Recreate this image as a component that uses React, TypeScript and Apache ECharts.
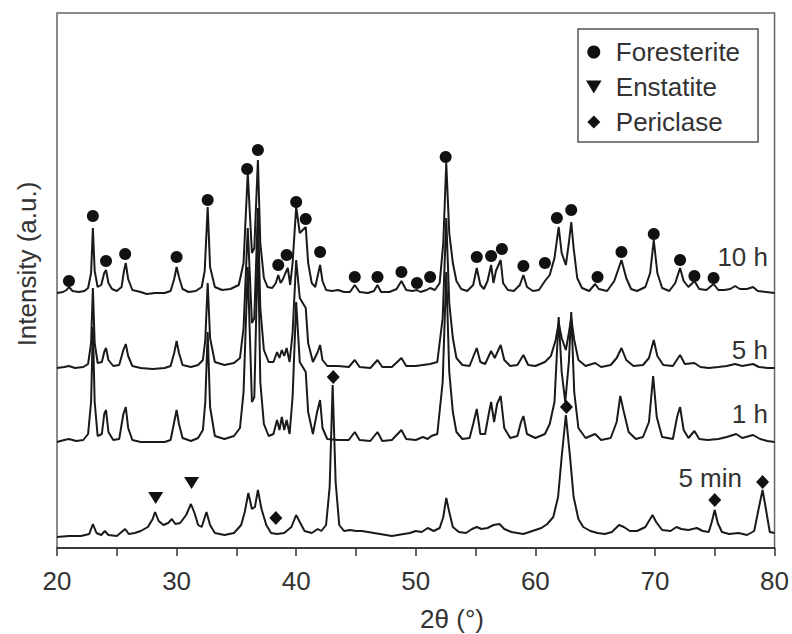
import React, { useEffect, useRef } from "react";
import * as echarts from "echarts";

// 2θ (°) vs. intensity (a.u., height above each pattern's own baseline)
const offset10h = 255;
const offset5h = 180;
const offset1h = 106;
const offset5min = 11;

const pattern10h: [number, number][] = [
  [20, 0], [20.5, 1], [20.8, 3], [21.0, 6], [21.3, 2], [21.8, 1], [22.3, 2], [22.6, 5], [22.85, 20], [23.0, 65], [23.15, 22], [23.4, 6],
  [23.7, 8], [23.95, 20], [24.1, 23], [24.3, 10], [24.6, 4], [25.0, 2], [25.4, 6], [25.6, 22], [25.75, 30], [25.95, 14], [26.3, 3],
  [27, 1], [27.5, -1], [28.2, 0], [29, 0], [29.5, 2], [29.8, 14], [30.0, 26], [30.2, 16], [30.5, 4], [31, 1], [31.6, 2], [32.1, 6],
  [32.35, 22], [32.6, 86], [32.8, 26], [33.2, 6], [33.8, 3], [34.5, 4], [35.2, 8], [35.6, 30], [35.95, 120], [36.3, 40], [36.5, 45],
  [36.8, 133], [37.0, 50], [37.3, 15], [37.6, 6], [38.0, 5], [38.3, 10], [38.5, 18], [38.7, 10], [38.9, 14], [39.1, 20], [39.3, 25],
  [39.5, 8], [39.7, 30], [40.0, 86], [40.3, 60], [40.8, 66], [41.0, 30], [41.3, 10], [41.6, 6], [41.85, 20], [42.0, 28], [42.2, 12],
  [42.5, 3], [43.0, 2], [43.5, 3], [44, 1], [44.5, 1], [44.9, 8], [45.3, 1], [46, 0], [46.5, 2], [46.8, 8], [47.1, 1], [47.8, 1],
  [48.4, 4], [48.8, 12], [49.2, 3], [49.7, 2], [50.1, 3], [50.4, 1], [50.9, 3], [51.2, 5], [51.6, 3], [52.0, 10], [52.3, 50],
  [52.55, 130], [52.8, 60], [53.1, 30], [53.4, 12], [53.8, 4], [54.3, 2], [54.8, 8], [55.1, 25], [55.4, 8], [55.7, 4], [56.0, 12],
  [56.3, 28], [56.5, 10], [56.7, 22], [57.1, 33], [57.3, 10], [57.7, 3], [58.2, 2], [58.7, 8], [59.0, 18], [59.3, 6], [59.8, 2],
  [60.3, 3], [60.8, 12], [61.2, 18], [61.6, 35], [61.95, 66], [62.2, 40], [62.55, 28], [62.8, 50], [63.0, 71], [63.2, 45], [63.5, 15],
  [63.9, 5], [64.5, 2], [65.0, 9], [65.3, 4], [66, 2], [66.6, 12], [67.2, 33], [67.6, 15], [68, 4], [68.5, 2], [69.2, 6], [69.6, 20],
  [69.9, 53], [70.2, 20], [70.6, 5], [71.2, 2], [71.7, 10], [72.1, 25], [72.4, 12], [72.8, 6], [73.3, 12], [73.7, 4], [74.3, 3],
  [74.9, 9], [75.3, 3], [75.8, 3], [76.3, 4], [76.7, 7], [77.1, 4], [77.7, 4], [78.2, 6], [78.6, 2], [79.3, 1], [80, 0],
];

const pattern5h: [number, number][] = [
  [20, 0], [20.6, 1], [21.0, 2], [21.5, 0], [22.2, 1], [22.6, 4], [22.85, 25], [23.0, 80], [23.15, 25], [23.4, 5], [23.75, 6],
  [23.95, 16], [24.1, 20], [24.3, 8], [24.7, 2], [25.2, 3], [25.55, 18], [25.75, 24], [25.95, 12], [26.3, 2], [27, 0], [28, -1],
  [29, 0], [29.5, 2], [29.8, 15], [30.0, 27], [30.2, 15], [30.5, 3], [31.2, 1], [31.8, 3], [32.2, 8], [32.4, 28], [32.6, 85],
  [32.8, 30], [33.2, 6], [34, 3], [34.8, 5], [35.3, 10], [35.6, 40], [35.95, 140], [36.3, 45], [36.5, 50], [36.8, 160], [37.0, 60],
  [37.3, 18], [37.7, 6], [38.1, 6], [38.4, 16], [38.6, 10], [38.8, 18], [39.0, 12], [39.2, 20], [39.45, 6], [39.7, 35], [40.0, 108],
  [40.3, 70], [40.8, 60], [41.0, 25], [41.4, 6], [41.8, 16], [42.0, 23], [42.2, 8], [42.6, 2], [43.5, 2], [44.4, 1], [44.9, 8],
  [45.3, 1], [46.2, 0], [46.8, 8], [47.2, 1], [48.0, 1], [48.8, 10], [49.2, 2], [50.0, 2], [50.6, 3], [51.2, 4], [51.8, 6],
  [52.25, 50], [52.55, 150], [52.8, 65], [53.1, 30], [53.4, 10], [53.9, 3], [54.5, 2], [55.1, 20], [55.4, 6], [55.8, 4], [56.3, 17],
  [56.6, 10], [57.1, 23], [57.4, 8], [57.9, 2], [58.5, 3], [59.0, 13], [59.4, 3], [60.0, 2], [60.8, 6], [61.3, 12], [61.7, 28],
  [61.95, 45], [62.2, 30], [62.55, 18], [62.8, 35], [63.0, 50], [63.25, 28], [63.6, 8], [64.2, 2], [65.0, 5], [65.5, 1], [66.3, 3],
  [66.8, 10], [67.2, 20], [67.6, 8], [68.2, 2], [69.0, 3], [69.5, 10], [69.9, 28], [70.2, 12], [70.7, 3], [71.5, 2], [72.1, 13],
  [72.5, 4], [73.3, 5], [73.8, 1], [74.5, 0], [75.3, 1], [76.0, 2], [76.7, 4], [77.3, 2], [78.2, 4], [78.7, 1], [79.4, 0], [80, 0],
];

const pattern1h: [number, number][] = [
  [20, 0], [20.6, 2], [21.0, 3], [21.6, 1], [22.2, 2], [22.6, 8], [22.85, 40], [23.0, 115], [23.15, 40], [23.4, 6], [23.75, 8],
  [23.95, 28], [24.1, 32], [24.3, 10], [24.7, 2], [25.2, 3], [25.55, 28], [25.75, 35], [25.95, 14], [26.3, 2], [27, 0], [28, 0],
  [29, 0], [29.5, 2], [29.8, 20], [30.0, 32], [30.2, 18], [30.5, 4], [31.2, 1], [31.8, 4], [32.2, 12], [32.4, 40], [32.6, 110],
  [32.8, 35], [33.2, 6], [34, 3], [34.8, 6], [35.3, 14], [35.6, 50], [35.95, 175], [36.3, 40], [36.5, 45], [36.8, 200], [37.0, 60],
  [37.3, 18], [37.7, 6], [38.1, 8], [38.4, 22], [38.6, 12], [38.8, 25], [39.0, 12], [39.2, 22], [39.45, 8], [39.7, 45], [40.0, 140],
  [40.3, 80], [40.8, 70], [41.0, 30], [41.4, 8], [41.75, 30], [42.0, 42], [42.2, 14], [42.6, 3], [43.5, 2], [44.4, 2], [44.9, 10],
  [45.3, 2], [46.2, 1], [46.8, 10], [47.2, 1], [48.0, 2], [48.8, 12], [49.2, 3], [50.0, 2], [50.6, 5], [51.0, 3], [51.3, 6],
  [51.8, 8], [52.25, 60], [52.55, 170], [52.8, 70], [53.1, 30], [53.4, 10], [53.9, 3], [54.5, 4], [54.8, 18], [55.1, 33], [55.4, 8],
  [55.8, 8], [56.1, 28], [56.3, 40], [56.55, 20], [56.8, 38], [57.1, 46], [57.4, 14], [57.9, 4], [58.5, 6], [58.8, 20], [59.0, 26],
  [59.3, 8], [60.0, 4], [60.8, 8], [61.2, 18], [61.6, 40], [61.95, 125], [62.2, 70], [62.5, 40], [62.8, 80], [63.0, 130], [63.25, 50],
  [63.6, 14], [64.2, 4], [65.0, 8], [65.5, 2], [66.3, 4], [66.8, 20], [67.1, 46], [67.4, 30], [67.8, 10], [68.4, 3], [69.0, 5],
  [69.5, 20], [69.85, 66], [70.15, 25], [70.6, 5], [71.5, 3], [71.85, 25], [72.1, 35], [72.4, 12], [72.8, 4], [73.3, 11], [73.7, 3],
  [74.4, 2], [75.3, 3], [76.0, 5], [76.8, 8], [77.3, 4], [78.2, 7], [78.8, 3], [79.4, 1], [80, 0],
];

const pattern5min: [number, number][] = [
  [20, 0], [21, 1], [22, 1], [22.7, 3], [23.0, 13], [23.3, 4], [23.7, 2], [24.0, 6], [24.3, 2], [25, 1], [25.7, 8], [26.0, 3],
  [26.5, 4], [27.0, 6], [27.6, 10], [28.0, 18], [28.2, 25], [28.5, 16], [28.9, 12], [29.3, 14], [29.6, 18], [29.9, 13], [30.3, 14],
  [30.8, 22], [31.2, 33], [31.5, 24], [31.8, 12], [32.1, 10], [32.5, 25], [32.8, 12], [33.2, 4], [34, 2], [34.8, 4], [35.4, 12],
  [35.7, 25], [36.0, 44], [36.3, 28], [36.55, 30], [36.8, 47], [37.1, 28], [37.5, 12], [37.9, 4], [38.4, 3], [39, 4], [39.6, 10],
  [40.0, 22], [40.3, 15], [40.7, 6], [41.3, 4], [41.8, 8], [42.1, 6], [42.5, 12], [42.8, 50], [43.05, 152], [43.3, 55], [43.6, 12],
  [44, 6], [44.5, 7], [45, 6], [45.5, 6], [46, 5], [46.5, 4], [47, 3], [47.5, 2], [48, 1], [48.5, 2], [49, 3], [49.5, 4], [50, 6],
  [50.5, 5], [51, 9], [51.5, 6], [52.0, 9], [52.3, 20], [52.55, 39], [52.8, 25], [53.1, 10], [53.6, 5], [54.2, 4], [54.7, 8],
  [55.1, 10], [55.5, 8], [56.0, 9], [56.5, 12], [57.0, 13], [57.4, 8], [58, 5], [58.5, 4], [59, 3], [59.5, 5], [60.0, 7], [60.5, 9],
  [61.0, 13], [61.5, 20], [61.9, 40], [62.2, 80], [62.55, 122], [62.9, 80], [63.2, 40], [63.6, 18], [64.0, 10], [64.6, 6], [65.2, 4],
  [65.8, 3], [66.4, 5], [67.0, 12], [67.4, 10], [67.9, 6], [68.5, 6], [69.2, 10], [69.8, 22], [70.1, 15], [70.6, 7], [71.3, 6],
  [71.8, 10], [72.2, 8], [72.8, 7], [73.5, 9], [74.0, 6], [74.5, 5], [74.75, 15], [75.0, 27], [75.25, 14], [75.6, 5], [76.2, 3],
  [77, 4], [77.7, 2], [78.3, 6], [78.7, 30], [79.0, 47], [79.25, 30], [79.6, 5], [80, 4],
];

// phase markers: [2θ, level on the plot's intensity scale]
const forsteriteMarks: [number, number][] = [
  [21.0, 267], [23.0, 332], [24.1, 287], [25.7, 294], [30.0, 291], [32.6, 348], [35.9, 379], [36.8, 398], [38.5, 283], [39.2, 293],
  [40.0, 346], [40.8, 329], [42.0, 296], [44.9, 271], [46.8, 271], [48.8, 276], [50.1, 265], [51.2, 271], [52.5, 391], [55.1, 291],
  [56.3, 292], [57.2, 299], [59.0, 282], [60.8, 285], [61.8, 330], [63.0, 338], [65.2, 271], [67.2, 296], [69.9, 314], [72.1, 288],
  [73.3, 272], [74.9, 270],
];
const enstatiteMarks: [number, number][] = [[28.25, 50], [31.25, 65]];
const pericIaseMarks: [number, number][] = [[38.3, 30], [43.1, 171], [62.6, 141], [75.0, 48], [79.0, 66]];

const patternLabels = ["10 h", "5 h", "1 h", "5 min"];
const xTicks = { min: 20, max: 80, interval: 10 };

const FONT = '"Liberation Sans", Arial, Helvetica, sans-serif';
const INK = "#1a1a1a";

export default function App() {
  const ref = useRef<HTMLDivElement>(null);
  useEffect(() => {
    if (!ref.current) return;
    const chart = echarts.init(ref.current, null, { renderer: "svg" });
    const shift = (arr: [number, number][], off: number) => arr.map(([x, h]) => [x, h + off]);
    const traces = [
      { name: "10 h", data: shift(pattern10h, offset10h) },
      { name: "5 h", data: shift(pattern5h, offset5h) },
      { name: "1 h", data: shift(pattern1h, offset1h) },
      { name: "5 min", data: shift(pattern5min, offset5min) },
    ];
    const labelY = [259, 352, 416, 480];
    const labelRight = [768, 768, 768, 742];
    const triPath = "path://M0,0L12,0L6,10Z";
    const diaPath = "path://M5,0L10,5L5,10L0,5Z";
    chart.setOption({
      animation: false,
      backgroundColor: "#fff",
      grid: { left: 57, right: 15, top: 13, bottom: 86, show: true, borderColor: "#666", borderWidth: 1.5 },
      xAxis: {
        type: "value",
        min: xTicks.min,
        max: xTicks.max,
        interval: xTicks.interval,
        axisLine: { show: true, onZero: false, lineStyle: { color: "#222", width: 1.5 } },
        axisTick: { show: true, inside: false, length: 8, lineStyle: { color: "#333", width: 1.5 } },
        minorTick: { show: true, splitNumber: 2, length: 8, lineStyle: { color: "#333", width: 1.5 } },
        splitLine: { show: false },
        axisLabel: { fontSize: 26, color: "#333", fontFamily: FONT, margin: 20 },
      },
      yAxis: { type: "value", min: 0, max: 535, show: false, splitLine: { show: false } },
      legend: {
        orient: "vertical",
        left: 578,
        top: 29,
        padding: [10, 18, 7, 8],
        itemGap: 9,
        itemWidth: 26,
        itemHeight: 13,
        symbolKeepAspect: true,
        borderColor: "#555",
        borderWidth: 1.5,
        textStyle: { fontSize: 26, color: "#333", fontFamily: FONT, lineHeight: 26, padding: [0, 0, 0, 4] },
        data: [
          { name: "Foresterite", icon: "circle", itemStyle: { opacity: 1, color: "#111" } },
          { name: "Enstatite", icon: triPath, itemStyle: { opacity: 1, color: "#111" } },
          { name: "Periclase", icon: diaPath, itemStyle: { opacity: 1, color: "#111" } },
        ],
      },
      series: [
        ...traces.map((t) => ({
          name: t.name,
          type: "line",
          data: t.data,
          showSymbol: false,
          silent: true,
          lineStyle: { color: INK, width: 2 },
          z: 3,
        })),
        {
          name: "Foresterite",
          type: "scatter",
          data: forsteriteMarks,
          symbol: "circle",
          symbolSize: 12,
          itemStyle: { color: "#111", opacity: 1 },
          z: 4,
        },
        {
          name: "Enstatite",
          type: "scatter",
          data: enstatiteMarks,
          symbol: triPath,
          symbolSize: [15, 12],
          itemStyle: { color: "#111", opacity: 1 },
          z: 4,
        },
        {
          name: "Periclase",
          type: "scatter",
          data: pericIaseMarks,
          symbol: diaPath,
          symbolSize: [13, 14],
          itemStyle: { color: "#111", opacity: 1 },
          z: 4,
        },
      ],
      graphic: [
        ...patternLabels.map((txt, i) => ({
          type: "text",
          right: 792 - labelRight[i],
          top: labelY[i] - 15,
          style: { text: txt, fontSize: 26, fontFamily: FONT, fill: "#333", textAlign: "right" },
          z: 10,
        })),
        {
          type: "text",
          x: 452,
          y: 619,
          style: { text: "2θ (°)", fontSize: 26, fontFamily: FONT, fill: "#333", textAlign: "center", textVerticalAlign: "middle" },
        },
        {
          type: "text",
          x: 27,
          y: 264,
          rotation: Math.PI / 2,
          style: { text: "Intensity (a.u.)", fontSize: 26, fontFamily: FONT, fill: "#333", textAlign: "center", textVerticalAlign: "middle" },
        },
      ],
    });
    return () => chart.dispose();
  }, []);
  return (
    <div
      ref={ref}
      style={{ position: "fixed", left: 0, top: 0, width: 792, height: 634, background: "#fff" }}
    />
  );
}
